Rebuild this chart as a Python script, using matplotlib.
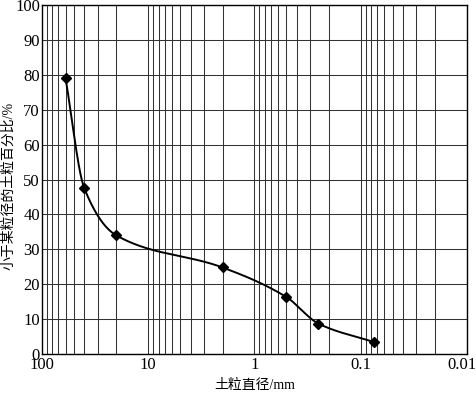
import numpy as np
import matplotlib
matplotlib.use("Agg")
import matplotlib.pyplot as plt
from matplotlib.ticker import LogLocator, FixedLocator, FixedFormatter
from matplotlib.transforms import ScaledTranslation

# data
diameter_mm = [60, 40, 20, 2, 0.5, 0.25, 0.075]
percent_finer = [79, 47.5, 34, 24.8, 16.3, 8.7, 3.4]
x_ticks = [100, 10, 1, 0.1, 0.01]
x_tick_labels = ["100", "10", "1", "0.1", "0.01"]
y_ticks = [0, 10, 20, 30, 40, 50, 60, 70, 80, 90, 100]
x_label = "土粒直径/mm"
y_label = "小于某粒径的土粒百分比/%"


def pchip(xk, yk, xq):
    xk = np.asarray(xk, float); yk = np.asarray(yk, float)
    h = np.diff(xk); d = np.diff(yk) / h
    n = len(xk); m = np.zeros(n)
    for i in range(1, n - 1):
        if d[i - 1] * d[i] > 0:
            w1 = 2 * h[i] + h[i - 1]; w2 = h[i] + 2 * h[i - 1]
            m[i] = (w1 + w2) / (w1 / d[i - 1] + w2 / d[i])
    m[0] = d[0]; m[-1] = d[-1]
    out = np.empty_like(xq)
    idx = np.clip(np.searchsorted(xk, xq) - 1, 0, n - 2)
    for j, (xv, i) in enumerate(zip(xq, idx)):
        t = (xv - xk[i]) / h[i]
        h00 = 2 * t**3 - 3 * t**2 + 1; h10 = t**3 - 2 * t**2 + t
        h01 = -2 * t**3 + 3 * t**2; h11 = t**3 - t**2
        out[j] = h00 * yk[i] + h10 * h[i] * m[i] + h01 * yk[i + 1] + h11 * h[i] * m[i + 1]
    return out


lx = np.log10(diameter_mm)[::-1]
ly = np.array(percent_finer)[::-1]
q = np.linspace(lx[0], lx[-1], 400)
curve = pchip(lx, ly, q)

fig = plt.figure(figsize=(4.77, 3.94), dpi=100)
ax = fig.add_axes([42 / 477, 40 / 394, 425 / 477, 349 / 394])
ax.set_xscale("log")
ax.set_xlim(100, 0.01)
ax.set_ylim(0, 100)

ax.plot(10 ** q, curve, color="black", lw=1.4, zorder=3)
ax.plot(diameter_mm, percent_finer, "D", color="black", ms=5, zorder=4)

ax.xaxis.set_major_locator(FixedLocator(x_ticks))
ax.xaxis.set_major_formatter(FixedFormatter(x_tick_labels))
ax.xaxis.set_minor_locator(LogLocator(base=10, subs=np.arange(2, 10)))
ax.xaxis.set_minor_formatter(plt.NullFormatter())
ax.set_yticks(y_ticks)

ax.grid(True, which="both", axis="x", color="#333333", lw=0.75)
ax.grid(True, which="major", axis="y", color="#333333", lw=0.75)
ax.tick_params(which="both", length=0, labelsize=12)
ax.tick_params(axis="y", pad=1.5)
ax.tick_params(axis="x", pad=2)
for lab in ax.get_xticklabels() + ax.get_yticklabels():
    lab.set_family("Liberation Serif")
for s in ax.spines.values():
    s.set_linewidth(1.0)

# keep the last x tick label inside the canvas
last = ax.xaxis.get_major_ticks()[-1].label1
last.set_transform(last.get_transform() + ScaledTranslation(-5 / 100, 0, fig.dpi_scale_trans))

fams = ["Liberation Serif", "Noto Sans CJK SC"]
ax.set_xlabel(x_label, family=fams, fontsize=10)
ax.xaxis.set_label_coords(0.5, -0.071)
ax.set_ylabel(y_label, family=fams, fontsize=10)
ax.yaxis.set_label_coords(-0.064, 0.482)

fig.savefig("out.png", dpi=100)
